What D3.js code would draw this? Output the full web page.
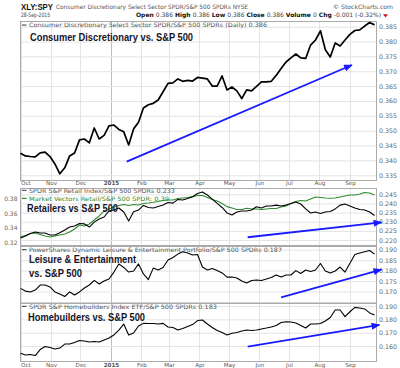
<!DOCTYPE html>
<html><head><meta charset="utf-8">
<script src="https://cdn.jsdelivr.net/npm/d3@7"></script>
<style>
body{margin:0;background:#fff;}
svg{display:block;}
</style></head><body>
<svg id="c" width="400" height="368"></svg>
<script>
// ---------- data ----------
const startDate = new Date(2014, 9, 1);
const endDate = new Date(2015, 8, 28);
const sampleDates = d3.timeDay.range(startDate, new Date(2015, 8, 27), 5); // 73 samples
const monthLabels = ["Oct","Nov","Dec","2015","Feb","Mar","Apr","May","Jun","Jul","Aug","Sep"];

const xlyValues = [0.3424,0.3415,0.3413,0.3412,0.3425,0.3428,0.3413,0.3388,0.3355,0.3375,
0.3415,0.3425,0.3469,0.3472,0.3459,0.3509,0.3472,0.3484,0.3516,0.3519,
0.3504,0.3496,0.3452,0.3506,0.3528,0.3576,0.3587,0.3592,0.3603,0.3631,
0.3659,0.3661,0.3674,0.3666,0.3669,0.3667,0.3679,0.3677,0.3674,0.3650,
0.3650,0.3684,0.3637,0.3647,0.3634,0.3608,0.3637,0.3634,0.3649,0.3664,
0.3664,0.3666,0.3686,0.3709,0.3731,0.3745,0.3758,0.3745,0.3743,0.3788,
0.3805,0.3836,0.3772,0.3748,0.3795,0.3785,0.3805,0.3824,0.3837,0.3839,
0.3852,0.3864,0.3856];

const xrtValues = [0.2211,0.2222,0.2236,0.2244,0.2238,0.2238,0.2227,0.2227,0.2240,0.2255,
0.2271,0.2277,0.2290,0.2288,0.2271,0.2298,0.2315,0.2326,0.2359,0.2364,
0.2375,0.2353,0.2304,0.2355,0.2364,0.2389,0.2378,0.2375,0.2383,0.2391,
0.2405,0.2402,0.2422,0.2419,0.2427,0.2437,0.2454,0.2463,0.2446,0.2424,
0.2400,0.2378,0.2348,0.2337,0.2353,0.2359,0.2359,0.2364,0.2382,0.2375,
0.2386,0.2386,0.2391,0.2386,0.2391,0.2400,0.2408,0.2397,0.2370,0.2348,
0.2353,0.2345,0.2353,0.2356,0.2370,0.2391,0.2397,0.2386,0.2375,0.2367,
0.2364,0.2353,0.2334];

const rthValues = [0.3281,0.3297,0.3324,0.3331,0.3311,0.3291,0.3277,0.3291,0.3304,0.3318,
0.3345,0.3385,0.3439,0.3426,0.3453,0.3507,0.3561,0.3628,0.3655,0.3682,
0.3703,0.3716,0.3703,0.3716,0.3709,0.3730,0.3737,0.3746,0.3757,0.3770,
0.3777,0.3777,0.3797,0.3804,0.3811,0.3822,0.3838,0.3838,0.3811,0.3784,
0.3764,0.3730,0.3687,0.3669,0.3649,0.3649,0.3665,0.3655,0.3655,0.3649,
0.3655,0.3662,0.3662,0.3682,0.3696,0.3730,0.3757,0.3770,0.3764,0.3791,
0.3818,0.3811,0.3804,0.3800,0.3804,0.3818,0.3831,0.3845,0.3845,0.3858,
0.3878,0.3872,0.3845];

const pejValues = [0.1715,0.1702,0.1698,0.1707,0.1731,0.1731,0.1722,0.1698,0.1688,0.1676,
0.1698,0.1683,0.1698,0.1717,0.1731,0.1753,0.1736,0.1750,0.1760,0.1793,
0.1832,0.1815,0.1793,0.1798,0.1832,0.1784,0.1757,0.1812,0.1803,0.1815,
0.1851,0.1863,0.1879,0.1890,0.1884,0.1875,0.1877,0.1817,0.1803,0.1810,
0.1800,0.1789,0.1769,0.1769,0.1765,0.1750,0.1741,0.1753,0.1755,0.1753,
0.1760,0.1767,0.1779,0.1769,0.1779,0.1779,0.1800,0.1786,0.1803,0.1796,
0.1803,0.1834,0.1798,0.1789,0.1798,0.1817,0.1793,0.1835,0.1877,0.1884,
0.1890,0.1896,0.1879];

const xhbValues = [0.1546,0.1533,0.1537,0.1529,0.1574,0.1597,0.1589,0.1578,0.1585,0.1615,
0.1615,0.1627,0.1642,0.1638,0.1630,0.1634,0.1630,0.1645,0.1660,0.1683,
0.1720,0.1765,0.1683,0.1698,0.1750,0.1770,0.1769,0.1769,0.1765,0.1770,
0.1743,0.1739,0.1720,0.1731,0.1746,0.1761,0.1791,0.1795,0.1765,0.1739,
0.1716,0.1702,0.1683,0.1696,0.1702,0.1713,0.1720,0.1716,0.1720,0.1728,
0.1735,0.1743,0.1754,0.1776,0.1782,0.1780,0.1773,0.1754,0.1735,0.1765,
0.1765,0.1769,0.1788,0.1814,0.1870,0.1870,0.1820,0.1857,0.1890,0.1885,
0.1878,0.1848,0.1833];

const ticksP1 = [0.335,0.340,0.345,0.350,0.355,0.360,0.365,0.370,0.375,0.380,0.385];
const ticksP2Right = [0.220,0.225,0.230,0.235,0.240,0.245];
const ticksP2Left = [0.32,0.34,0.36,0.38];
const ticksP3 = [0.170,0.175,0.180,0.185,0.190];
const ticksP4 = [0.160,0.170,0.180,0.190];

// trend arrows (date, value)
const arrowP1 = [[new Date(2015,0,17),0.3396],[new Date(2015,8,3),0.3721]];
const arrowP2 = [[new Date(2015,4,20),0.2215],[new Date(2015,9,3),0.2296]];
const arrowP3 = [[new Date(2015,5,23),0.1672],[new Date(2015,9,3),0.1805]];
const arrowP4 = [[new Date(2015,4,20),0.1595],[new Date(2015,9,1),0.1758]];

// ---------- layout ----------
const svg = d3.select("#c");
const X0 = 20.5, X1 = 376.5;
const SMALL = "DejaVu Sans, Verdana, sans-serif";
const BOLD = "Liberation Sans, Arial, sans-serif";
const x = d3.scaleTime().domain([startDate, endDate]).range([X0, X1]);
const monthStarts = d3.timeMonth.range(startDate, endDate);

const defs = svg.append("defs");
defs.append("marker").attr("id","ah").attr("viewBox","0 0 10 8")
  .attr("refX",9).attr("refY",4).attr("markerWidth",9).attr("markerHeight",7)
  .attr("markerUnits","userSpaceOnUse").attr("orient","auto")
  .append("path").attr("d","M0,0L10,4L0,8Z").attr("fill","#1a1aff");

function panel(top, bottom, domain, ticks) {
  const y = d3.scaleLinear().domain(domain).range([bottom, top]);
  const g = svg.append("g");
  g.selectAll("line.v").data(monthStarts).join("line")
    .attr("x1", d => Math.round(x(d)) + 0.5).attr("x2", d => Math.round(x(d)) + 0.5)
    .attr("y1", top).attr("y2", bottom)
    .attr("stroke", d => d.getMonth() === 0 ? "#bdbdbd" : "#e4e4e4");
  const ax = g.append("g").attr("transform", `translate(${X1},0)`)
    .call(d3.axisRight(y).tickValues(ticks).tickSize(-(X1 - X0)).tickFormat(d3.format(".3f")));
  ax.select(".domain").remove();
  ax.selectAll(".tick line").attr("stroke", "#e4e4e4");
  ax.selectAll(".tick text").attr("x", 2.5).attr("fill", "#666")
    .style("font-family", SMALL).style("font-size", "6.3px");
  g.append("rect").attr("x", X0).attr("y", top + 0.5).attr("width", X1 - X0)
    .attr("height", bottom - top).attr("fill", "none").attr("stroke", "#aaa");
  return y;
}

function series(y, values, color, width) {
  svg.append("path").datum(values)
    .attr("d", d3.line().x((d, i) => x(sampleDates[i])).y(d => y(d)))
    .attr("fill", "none").attr("stroke", color).attr("stroke-width", width)
    .attr("stroke-linejoin", "round");
}
function arrow(y, a) {
  svg.append("line").attr("x1", x(a[0][0])).attr("y1", y(a[0][1]))
    .attr("x2", x(a[1][0])).attr("y2", y(a[1][1]))
    .attr("stroke", "#1a1aff").attr("stroke-width", 1.8).attr("marker-end", "url(#ah)");
}
function legend(yb, label, color, len) {
  svg.append("line").attr("x1", 22).attr("x2", 26.5).attr("y1", yb - 2.2).attr("y2", yb - 2.2)
    .attr("stroke", color).attr("stroke-width", 1.2);
  svg.append("text").attr("x", 29).attr("y", yb).text(label)
    .attr("textLength", len).attr("lengthAdjust", "spacingAndGlyphs")
    .attr("fill", color).style("font-family", SMALL).style("font-size", "6px");
}
function note(xp, yb, label, len) {
  svg.append("text").attr("x", xp).attr("y", yb).text(label)
    .attr("textLength", len).attr("lengthAdjust", "spacingAndGlyphs")
    .attr("fill", "#15152a").style("font-family", BOLD).style("font-weight", "bold").style("font-size", "11px");
}
function monthAxis(yPos) {
  const ax = svg.append("g").attr("transform", `translate(0,${yPos})`)
    .call(d3.axisBottom(x).tickValues(monthStarts).tickSize(0)
      .tickFormat((d, i) => monthLabels[i]));
  ax.select(".domain").remove();
  ax.selectAll(".tick text").attr("y", 0).attr("dy", "0.35em").attr("fill", "#555")
    .style("font-family", SMALL).style("font-size", "5.6px")
    .style("font-weight", (d, i) => i === 3 ? "bold" : "normal")
    .attr("text-anchor", (d, i) => i === 0 ? "start" : "middle");
}

// ---------- header ----------
svg.append("text").attr("x", 21).attr("y", 9.5).text("XLY:SPY")
  .attr("textLength", 32).attr("lengthAdjust", "spacingAndGlyphs")
  .style("font-family", BOLD).style("font-weight", "bold").style("font-size", "9.5px").attr("fill", "#111");
svg.append("text").attr("x", 56).attr("y", 8.5)
  .text("Consumer Discretionary Select Sector SPDR/S&P 500 SPDRs NYSE")
  .attr("textLength", 192).attr("lengthAdjust", "spacingAndGlyphs")
  .attr("fill", "#555").style("font-family", SMALL).style("font-size", "6px");
svg.append("text").attr("x", 333).attr("y", 8.5).text("© StockCharts.com")
  .attr("textLength", 60).attr("lengthAdjust", "spacingAndGlyphs")
  .attr("fill", "#555").style("font-family", SMALL).style("font-size", "6px");
svg.append("text").attr("x", 21).attr("y", 16.5).text("28-Sep-2015")
  .attr("textLength", 29).attr("lengthAdjust", "spacingAndGlyphs")
  .attr("fill", "#444").style("font-family", SMALL).style("font-size", "6px");
const q = svg.append("text").attr("x", 136).attr("y", 16.5)
  .attr("textLength", 245).attr("lengthAdjust", "spacingAndGlyphs")
  .attr("fill", "#444").style("font-family", SMALL).style("font-size", "6px");
[["Open ",1],["0.386 ",0],["High ",1],["0.386 ",0],["Low ",1],["0.386 ",0],["Close ",1],["0.386 ",0],
 ["Volume ",1],["0 ",0],["Chg ",1],["-0.001 (-0.32%)",0]].forEach(([t,b]) =>
  q.append("tspan").text(t).style("font-weight", b ? "bold" : "normal").attr("fill", b ? "#111" : "#444"));
svg.append("path").attr("d", "M383,14.2L388,14.2L385.5,17.5Z").attr("fill", "#d01010");

// ---------- panel 1 ----------
const y1 = panel(21, 180, [0.3334, 0.3869], ticksP1);
legend(27.3, "Consumer Discretionary Select Sector SPDR/S&P 500 SPDRs (Daily) 0.386", "#555", 238);
series(y1, xlyValues, "#000", 1.7);
note(30, 40.5, "Consumer Discretionary vs. S&P 500", 163);
arrow(y1, arrowP1);
monthAxis(183.5);

// ---------- panel 2 ----------
const y2 = panel(188, 245, [0.21727, 0.24845], ticksP2Right);
const y2L = d3.scaleLinear().domain([0.3169, 0.3939]).range([245, 188]);
const axL = svg.append("g").attr("transform", `translate(${X0},0)`)
  .call(d3.axisLeft(y2L).tickValues(ticksP2Left).tickSize(0).tickFormat(d3.format(".2f")));
axL.select(".domain").remove();
axL.selectAll(".tick text").attr("x", -3).attr("fill", "#666")
  .style("font-family", SMALL).style("font-size", "6px");
series(y2L, rthValues, "#2f8a2f", 1.1);
series(y2, xrtValues, "#000", 1.1);
legend(192.6, "SPDR S&P Retail Index/S&P 500 SPDRs 0.233", "#555", 146);
legend(200.6, "Market Vectors Retail/S&P 500 SPDR: 0.39", "#2f8a2f", 140);
note(27, 211.5, "Retailers vs S&P 500", 91);
arrow(y2, arrowP2);

// ---------- panel 3 ----------
const y3 = panel(246, 302.5, [0.16474, 0.19177], ticksP3);
legend(251.8, "PowerShares Dynamic Leisure & Entertainment Portfolio/S&P 500 SPDRs 0.187", "#555", 253);
series(y3, pejValues, "#000", 1.1);
note(29, 263, "Leisure & Entertainment", 107);
note(29, 276.5, "vs. S&P 500", 53);
arrow(y3, arrowP3);

// ---------- panel 4 ----------
const y4 = panel(303, 361, [0.14881, 0.19225], ticksP4);
legend(308.6, "SPDR S&P Homebuilders Index ETF/S&P 500 SPDRs 0.183", "#555", 188);
series(y4, xhbValues, "#000", 1.1);
note(28, 320.5, "Homebuilders vs. S&P 500", 117);
arrow(y4, arrowP4);
monthAxis(365);
</script>
</body></html>
